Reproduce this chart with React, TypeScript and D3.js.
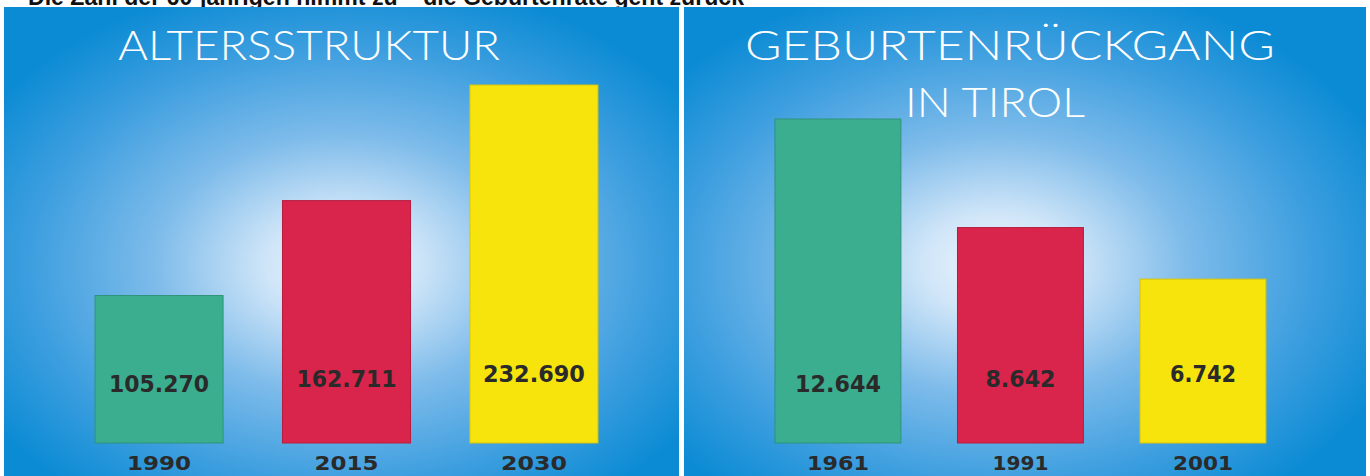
import React from "react";
import * as d3 from "d3";

const headline = "Die Zahl der 60-jährigen nimmt zu – die Geburtenrate geht zurück";

const leftTitle = ["ALTERSSTRUKTUR"];
const leftYears = ["1990", "2015", "2030"];
const leftValues = [105270, 162711, 232690];

const rightTitle = ["GEBURTENRÜCKGANG", "IN TIROL"];
const rightYears = ["1961", "1991", "2001"];
const rightValues = [12644, 8642, 6742];

const barColors = ["#3bae90", "#d9244c", "#f6e40c"];
const barStroke = ["#2f9479", "#b81c3d", "#d8c40a"];

const de = d3.formatLocale({ decimal: ",", thousands: ".", grouping: [3], currency: ["", "€"] });
const fmt = de.format(",");

const W = 1370;
const H = 476;

type PanelProps = {
  id: string;
  x0: number;
  x1: number;
  years: string[];
  values: number[];
  titles: string[];
  titleBoxes: { x: number; y: number; w: number; size: number }[];
  bandRange: [number, number];
  padIn: number;
  padOut: number;
  yDomain: [number, number];
  yRange: [number, number];
  gx: number;
  gy: number;
  labelWidths: number[];
  yearWidths: number[];
};

function Panel(p: PanelProps) {
  const x = d3.scaleBand<string>().domain(p.years).range(p.bandRange).paddingInner(p.padIn).paddingOuter(p.padOut);
  const y = d3.scaleLinear().domain(p.yDomain).range(p.yRange);
  const base = p.yRange[0];
  return (
    <g>
      <defs>
        <radialGradient id={p.id} cx={p.gx} cy={p.gy} r="0.62" fx={p.gx} fy={p.gy}>
          <stop offset="0" stopColor="#eef6fd" />
          <stop offset="0.18" stopColor="#cfe5f8" />
          <stop offset="0.45" stopColor="#7dbbea" />
          <stop offset="0.75" stopColor="#3c9edf" />
          <stop offset="1" stopColor="#0b8bd4" />
        </radialGradient>
      </defs>
      <rect x={p.x0} y={7} width={p.x1 - p.x0} height={H - 7} fill={`url(#${p.id})`} />
      {p.titles.map((t, i) => (
        <text
          key={t}
          x={p.titleBoxes[i].x}
          y={p.titleBoxes[i].y}
          fill="#ffffff"
          fontFamily="Lato, 'Open Sans', sans-serif"
          fontWeight={300}
          fontSize={p.titleBoxes[i].size}
          textLength={p.titleBoxes[i].w}
          lengthAdjust="spacingAndGlyphs"
        >
          {t}
        </text>
      ))}
      {p.years.map((yr, i) => {
        const bx = x(yr)!;
        const bw = x.bandwidth();
        const top = y(p.values[i]);
        const cx = bx + bw / 2;
        return (
          <g key={yr}>
            <rect x={bx} y={top} width={bw} height={base - top} fill={barColors[i]} stroke={barStroke[i]} strokeWidth={1} />
            <text
              x={cx}
              y={392 - i * 5}
              textAnchor="middle"
              fill="#2a2a2a"
              fontFamily="'DejaVu Sans', sans-serif"
              fontWeight="bold"
              fontSize={23}
              textLength={p.labelWidths[i]}
              lengthAdjust="spacingAndGlyphs"
            >
              {fmt(p.values[i])}
            </text>
            <text
              x={cx}
              y={470}
              textAnchor="middle"
              fill="#2a2a2a"
              fontFamily="'DejaVu Sans', sans-serif"
              fontWeight="bold"
              fontSize={20}
              textLength={p.yearWidths[i]}
              lengthAdjust="spacingAndGlyphs"
            >
              {yr}
            </text>
          </g>
        );
      })}
    </g>
  );
}

export default function App() {
  return (
    <svg
      width={W}
      height={H}
      viewBox={`0 0 ${W} ${H}`}
      style={{ position: "absolute", left: 0, top: 0, display: "block", background: "#ffffff" }}
    >
      <text x={28} y={5} fill="#111" fontFamily="'Liberation Sans', Arial, sans-serif" fontWeight="bold" fontSize={24} textLength={716} lengthAdjust="spacingAndGlyphs">
        {headline}
      </text>
      <Panel
        id="gl"
        x0={4}
        x1={679}
        years={leftYears}
        values={leftValues}
        titles={leftTitle}
        titleBoxes={[{ x: 118, y: 60, w: 382, size: 41 }]}
        bandRange={[64.3, 628.7]}
        padIn={0.317}
        padOut={0.164}
        yDomain={[16000, 232690]}
        yRange={[443, 85]}
        gx={0.5}
        gy={0.55}
        labelWidths={[100, 100, 102]}
        yearWidths={[64, 64, 66]}
      />
      <Panel
        id="gr"
        x0={684}
        x1={1366}
        years={rightYears}
        values={rightValues}
        titles={rightTitle}
        titleBoxes={[
          { x: 745, y: 60, w: 530, size: 41 },
          { x: 905, y: 117, w: 180, size: 41 },
        ]}
        bandRange={[746.7, 1294.2]}
        padIn={0.31}
        padOut={0.155}
        yDomain={[700, 12644]}
        yRange={[443, 119]}
        gx={0.46}
        gy={0.55}
        labelWidths={[86, 70, 66]}
        yearWidths={[62, 56, 60]}
      />
    </svg>
  );
}
